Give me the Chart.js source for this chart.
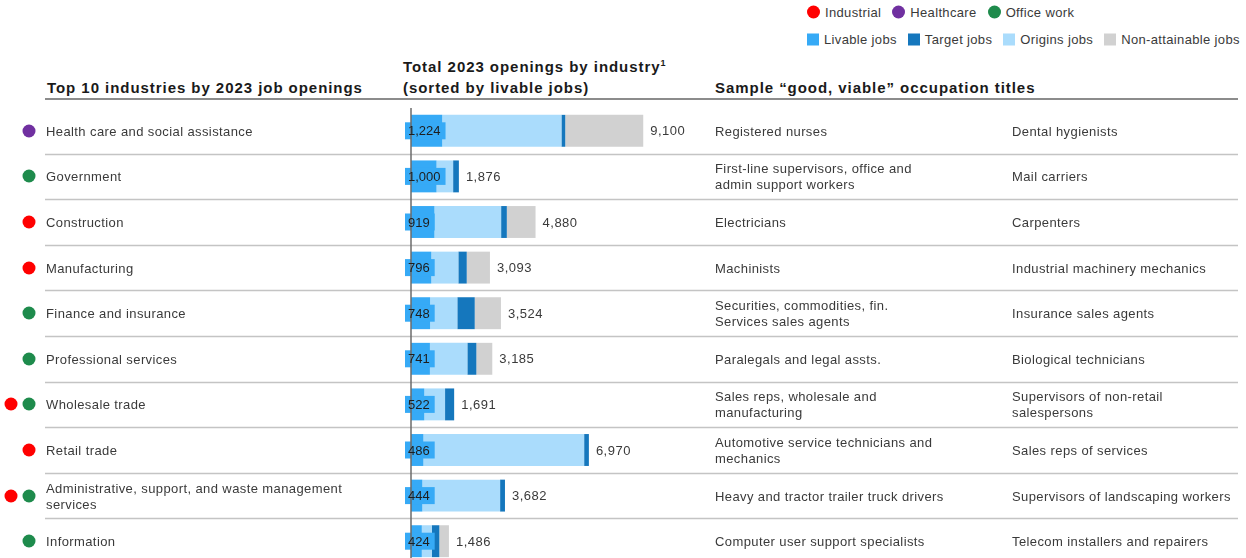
<!DOCTYPE html>
<html>
<head>
<meta charset="utf-8">
<script src="https://cdn.jsdelivr.net/npm/chart.js@4.4.0/dist/chart.umd.min.js"></script>
<style>
  body { margin: 0; width: 1246px; height: 558px; overflow: hidden; background: #fff;
         font-family: Arial, "Liberation Sans", sans-serif; color: #3a3a3a; }
  #wrap { position: relative; width: 1246px; height: 564px; }
  #chart { position: absolute; left: 0; top: 0; }
  .t { position: absolute; white-space: nowrap; font-size: 13px; letter-spacing: 0.4px; line-height: 16px; transform: translateY(-50%); }
  .h { position: absolute; white-space: nowrap; font-weight: bold; font-size: 15px; letter-spacing: 0.95px; color: #1a1a1a; transform: translateY(-50%); }
  .h sup { font-size: 9px; }
  .dot { position: absolute; width: 13px; height: 13px; border-radius: 50%; transform: translate(-50%, -50%); }
  .legend { position: absolute; left: 807px; display: flex; align-items: center; white-space: nowrap; font-size: 13px; letter-spacing: 0.35px; color: #3a3a3a; transform: translateY(-50%); }
  .legend .mk { width: 12px; height: 12px; margin-right: 5px; flex: none; }
  .legend .mk.round { width: 13px; height: 13px; border-radius: 50%; }
  .legend .lb { margin-right: 11px; white-space: nowrap; flex: none; }
  #headLine { position: absolute; left: 45px; width: 1193px; top: 98px; height: 2px; background: #8c8c8c; }
</style>
</head>
<body>
<div id="wrap">
  <div class="legend" id="groupLegend" style="top:12px"></div>
  <div class="legend" id="seriesLegend" style="top:39px"></div>
  <div class="h" style="left:47px; top:87px">Top 10 industries by 2023 job openings</div>
  <div class="h" style="left:403px; top:66px">Total 2023 openings by industry<sup>1</sup></div>
  <div class="h" style="left:403px; top:87px">(sorted by livable jobs)</div>
  <div class="h" style="left:715px; top:87px">Sample “good, viable” occupation titles</div>
  <div id="headLine"></div>
  <canvas id="chart" width="1246" height="564"></canvas>
</div>
<script>
// Top 10 industries, sorted by livable jobs
const industries = [
    'Health care and social assistance',
    'Government',
    'Construction',
    'Manufacturing',
    'Finance and insurance',
    'Professional services',
    'Wholesale trade',
    'Retail trade',
    'Administrative, support, and waste management\nservices',
    'Information'
];

// industry groups shown as dots in front of each row
const industryGroups = [
    ['Healthcare'],
    ['Office work'],
    ['Industrial'],
    ['Industrial'],
    ['Office work'],
    ['Office work'],
    ['Industrial', 'Office work'],
    ['Industrial'],
    ['Industrial', 'Office work'],
    ['Office work']
];

// stacked segments (livable, origins, target, non-attainable)
const livable = [1224, 1000, 919, 796, 748, 741, 522, 486, 444, 424];
const origins = [4670, 650, 2612, 1059, 1067, 1467, 812, 6298, 3047, 388];
const target = [150, 226, 224, 329, 682, 353, 357, 186, 191, 298];
const nonAttainable = [3056, 0, 1125, 909, 1027, 624, 0, 0, 0, 376];
const totals = [9100, 1876, 4880, 3093, 3524, 3185, 1691, 6970, 3682, 1486];

// sample occupation titles, two columns
const occupationsA = [
    'Registered nurses',
    'First-line supervisors, office and\nadmin support workers',
    'Electricians',
    'Machinists',
    'Securities, commodities, fin.\nServices sales agents',
    'Paralegals and legal assts.',
    'Sales reps, wholesale and\nmanufacturing',
    'Automotive service technicians and\nmechanics',
    'Heavy and tractor trailer truck drivers',
    'Computer user support specialists'
];
const occupationsB = [
    'Dental hygienists',
    'Mail carriers',
    'Carpenters',
    'Industrial machinery mechanics',
    'Insurance sales agents',
    'Biological technicians',
    'Supervisors of non-retail\nsalespersons',
    'Sales reps of services',
    'Supervisors of landscaping workers',
    'Telecom installers and repairers'
];

const groupNames = ['Industrial', 'Healthcare', 'Office work'];
const groupColors = { 'Industrial': '#ff0000', 'Healthcare': '#7030a0', 'Office work': '#1e8b4c' };

// legend shows series in this order
const legendOrder = ['Livable jobs', 'Target jobs', 'Origins jobs', 'Non-attainable jobs'];

const colors = {
    livable: '#36aaf6',
    origins: '#aadcfc',
    target: '#1577bd',
    nonAttainable: '#d1d1d1'
};

// horizontal separators between rows, reaching across the whole table
const rowLines = {
    id: 'rowLines',
    beforeDatasetsDraw(chart) {
        const ctx = chart.ctx;
        const y = chart.scales.y;
        ctx.save();
        ctx.strokeStyle = '#c4c4c4';
        ctx.lineWidth = 1.5;
        for (let i = 0; i < industries.length - 1; i++) {
            const yy = Math.round((y.getPixelForValue(i) + y.getPixelForValue(i + 1)) / 2) + 0.5;
            ctx.beginPath();
            ctx.moveTo(45, yy);
            ctx.lineTo(1238, yy);
            ctx.stroke();
        }
        ctx.restore();
    }
};

// livable value box at the start, total after the bar end, axis line on top
const valueLabels = {
    id: 'valueLabels',
    afterDatasetsDraw(chart) {
        const ctx = chart.ctx;
        const x = chart.scales.x;
        const y = chart.scales.y;
        const x0 = x.getPixelForValue(0);
        ctx.save();
        ctx.font = '13px Arial, "Liberation Sans", sans-serif';
        ctx.textBaseline = 'middle';

        const boxes = livable.map((v, i) => {
            const txt = v.toLocaleString('en-US');
            const w = ctx.measureText(txt).width;
            return { txt, w, yy: y.getPixelForValue(i) };
        });
        ctx.fillStyle = colors.livable;
        boxes.forEach(b => ctx.fillRect(x0 - 6, b.yy - 8.5, b.w + 8, 17));

        ctx.strokeStyle = '#6b6b6b';
        ctx.lineWidth = 1.5;
        ctx.beginPath();
        ctx.moveTo(x0, chart.chartArea.top);
        ctx.lineTo(x0, chart.chartArea.bottom);
        ctx.stroke();

        ctx.fillStyle = '#1e1e1e';
        ctx.textAlign = 'left';
        boxes.forEach(b => ctx.fillText(b.txt, x0 - 3, b.yy + 1));

        ctx.fillStyle = '#3a3a3a';
        if ('letterSpacing' in ctx) ctx.letterSpacing = '0.5px';
        totals.forEach((t, i) => {
            const end = livable[i] + origins[i] + target[i] + nonAttainable[i];
            ctx.fillText(t.toLocaleString('en-US'), x.getPixelForValue(end) + 7, y.getPixelForValue(i) + 1);
        });
        ctx.restore();
    }
};

const chart = new Chart(document.getElementById('chart'), {
    type: 'bar',
    data: {
        labels: industries,
        datasets: [
            { label: 'Livable jobs', data: livable, backgroundColor: colors.livable },
            { label: 'Origins jobs', data: origins, backgroundColor: colors.origins },
            { label: 'Target jobs', data: target, backgroundColor: colors.target },
            { label: 'Non-attainable jobs', data: nonAttainable, backgroundColor: colors.nonAttainable }
        ]
    },
    options: {
        indexAxis: 'y',
        responsive: false,
        animation: false,
        layout: { padding: { left: 411, top: 108, right: 3, bottom: 0 } },
        datasets: { bar: { barPercentage: 0.7, categoryPercentage: 1 } },
        plugins: {
            legend: { display: false },
            tooltip: { enabled: false }
        },
        scales: {
            x: { stacked: true, display: false, min: 0, max: 32600 },
            y: { stacked: true, display: false }
        }
    },
    plugins: [rowLines, valueLabels]
});

// HTML legends
const groupLegend = document.getElementById('groupLegend');
groupLegend.innerHTML = groupNames.map(g =>
    `<span class="mk round" style="background:${groupColors[g]}"></span><span class="lb">${g}</span>`
).join('');

const seriesLegend = document.getElementById('seriesLegend');
const sets = chart.data.datasets.slice().sort((a, b) => legendOrder.indexOf(a.label) - legendOrder.indexOf(b.label));
seriesLegend.innerHTML = sets.map(ds =>
    `<span class="mk" style="background:${ds.backgroundColor}"></span><span class="lb">${ds.label}</span>`
).join('');

// table text placed on the chart's row positions
function addRowText() {
    const wrap = document.getElementById('wrap');
    const y = chart.scales.y;
    industries.forEach((name, i) => {
        const yy = y.getPixelForValue(i);
        const cols = [[46, name], [715, occupationsA[i]], [1012, occupationsB[i]]];
        cols.forEach(([left, txt]) => {
            const el = document.createElement('div');
            el.className = 't';
            el.style.left = left + 'px';
            el.style.top = (yy + 1) + 'px';
            el.innerHTML = txt.split('\n').join('<br>');
            wrap.appendChild(el);
        });
        const groups = industryGroups[i];
        groups.forEach((g, k) => {
            const d = document.createElement('div');
            d.className = 'dot';
            d.style.background = groupColors[g];
            d.style.left = (28.5 - (groups.length - 1 - k) * 18) + 'px';
            d.style.top = yy + 'px';
            wrap.appendChild(d);
        });
    });
}
addRowText();
</script>
</body>
</html>
